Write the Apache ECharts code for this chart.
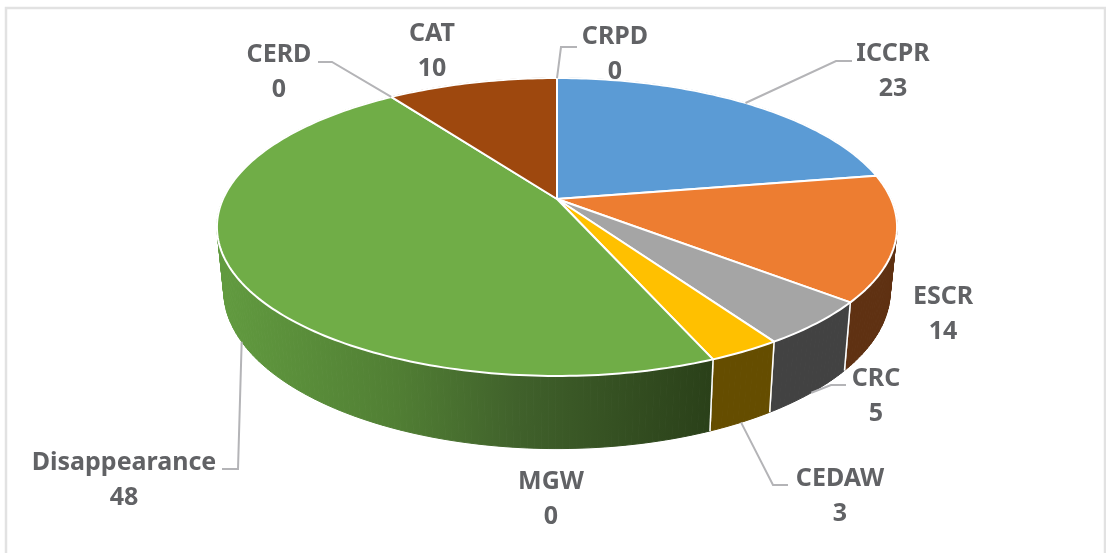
<!DOCTYPE html>
<html>
<head>
<meta charset="utf-8">
<style>
    html, body { margin: 0; padding: 0; background: #fff; }
    #chart { width: 1106px; height: 553px; }
</style>
<script src="https://cdn.jsdelivr.net/npm/echarts@6/dist/echarts.min.js"></script>
</head>
<body>
<div id="chart"></div>
<script>
    // data
    var categories = ['ICCPR', 'ESCR', 'CRC', 'CEDAW', 'MGW', 'Disappearance', 'CERD', 'CAT', 'CRPD'];
    var values = [23, 14, 5, 3, 0, 48, 0, 10, 0];

    // slice colours, top face
    var topColors = ['#5B9BD5', '#ED7D31', '#A5A5A5', '#FFC000', '#4472C4', '#70AD47', '#264478', '#9E480E', '#636363'];
    // rim colours, front side
    var sideColors = ['#3a6d9c', '#5f3112', '#424242', '#654d00', '#2a4a80', null, '#1c3359', '#5f2b08', '#3c3c3c'];

    // label centre and leader elbow, layout only
    var labelPos = [[893, 70], [943, 313], [876, 395], [840, 495], [551, 498], [124, 479], [279, 71], [432, 50], [615, 53]];
    var leaderElbow = [
        [[852, 61], [836, 61]], null, [[846, 385], [831, 385]], [[788, 485], [773, 485]], null,
        [[222, 469], [238, 469]], [[318, 62], [332, 62]], null, [[577, 47], [561, 47]]
    ];
    // leader ends on the lower rim for these ones
    var leaderOnLowerRim = [false, false, true, true, false, true, false, false, false];

    // projection of the tilted disc
    var cx = 557, cy = 199;
    var halfW = 334, halfH = 143.7, persp = 0.188;
    var rimDepth = 62, rimScaleX = 0.98, rimScaleY = 1.06;

    var total = values.reduce(function (a, b) { return a + b; }, 0);
    var starts = [];
    values.reduce(function (sum, v, i) { starts[i] = sum; return sum + v; }, 0);

    function upperPoint(angle) {
        var x = Math.sin(angle), v = -Math.cos(angle);
        var w = 1 - persp * v;
        return [cx + halfW * x / w, cy + halfH * v / w];
    }
    function lowerPoint(angle) {
        var p = upperPoint(angle);
        return [cx + (p[0] - cx) * rimScaleX, cy + (p[1] - cy) * rimScaleY + rimDepth];
    }
    function toAngle(v) {
        return v / total * Math.PI * 2;
    }
    function arc(fn, from, to) {
        var pts = [];
        var n = Math.max(2, Math.ceil((to - from) / (Math.PI / 180)));
        for (var i = 0; i <= n; i++) {
            pts.push(fn(from + (to - from) * i / n));
        }
        return pts;
    }

    var greenSide = new echarts.graphic.LinearGradient(225, 0, 712, 0, [
        { offset: 0, color: '#619a3f' },
        { offset: 0.35, color: '#517f34' },
        { offset: 0.6, color: '#40612b' },
        { offset: 1, color: '#2a4019' }
    ], true);

    // rim is built from small strips, a plain band between the two arcs
    // would miss the straight silhouette at the far left and right
    function renderSide(params, api) {
        var i = params.dataIndex;
        if (!values[i]) {
            return null;
        }
        var a0 = toAngle(starts[i]), a1 = toAngle(starts[i] + values[i]);
        var up = arc(upperPoint, a0, a1), low = arc(lowerPoint, a0, a1);
        var last = up.length - 1;
        var fill = sideColors[i] || greenSide;
        var children = [];
        for (var k = 0; k < last; k++) {
            children.push({
                type: 'polygon',
                shape: { points: [up[k], up[k + 1], low[k + 1], low[k]] },
                style: { fill: fill, stroke: fill, lineWidth: 1 }
            });
        }
        // white seams only at the two ends of the slice
        [0, last].forEach(function (k) {
            children.push({
                type: 'line',
                shape: { x1: up[k][0], y1: up[k][1], x2: low[k][0], y2: low[k][1] },
                style: { stroke: '#fff', lineWidth: 1.5 }
            });
        });
        return { type: 'group', children: children };
    }

    function renderTop(params, api) {
        var i = params.dataIndex;
        if (!values[i]) {
            return null;
        }
        var a0 = toAngle(starts[i]), a1 = toAngle(starts[i] + values[i]);
        var pts = [[cx, cy]].concat(arc(upperPoint, a0, a1));
        return {
            type: 'polygon',
            shape: { points: pts },
            style: { fill: topColors[i], stroke: '#fff', lineWidth: 2, lineJoin: 'round' }
        };
    }

    function renderLabel(params, api) {
        var i = params.dataIndex;
        var children = [];
        if (leaderElbow[i]) {
            var mid = toAngle(starts[i] + values[i] / 2);
            var end = leaderOnLowerRim[i] ? lowerPoint(mid) : upperPoint(mid);
            children.push({
                type: 'polyline',
                shape: { points: leaderElbow[i].concat([end]) },
                style: { fill: null, stroke: '#b4b4b7', lineWidth: 2 }
            });
        }
        children.push({
            type: 'text',
            x: labelPos[i][0],
            y: labelPos[i][1] + 1,
            style: {
                text: categories[i] + '\n' + values[i],
                align: 'center',
                verticalAlign: 'middle',
                lineHeight: 35,
                font: 'bold 25px "Noto Sans"',
                fill: '#616265'
            }
        });
        return { type: 'group', children: children };
    }

    var myChart = echarts.init(document.getElementById('chart'), null, { renderer: 'canvas' });
    myChart.setOption({
        animation: false,
        backgroundColor: '#fff',
        tooltip: { show: false },
        graphic: [{
            type: 'polyline',
            shape: { points: [[6, 560], [6, 8], [1105, 8], [1105, 560]] },
            style: { fill: null, stroke: '#e2e2e2', lineWidth: 2.5 }
        }],
        series: [
            { type: 'custom', coordinateSystem: 'none', silent: true, data: values, renderItem: renderSide, z: 2 },
            { type: 'custom', coordinateSystem: 'none', silent: true, data: values, renderItem: renderTop, z: 3 },
            { type: 'custom', coordinateSystem: 'none', silent: true, data: values, renderItem: renderLabel, z: 4 }
        ]
    });
</script>
</body>
</html>
